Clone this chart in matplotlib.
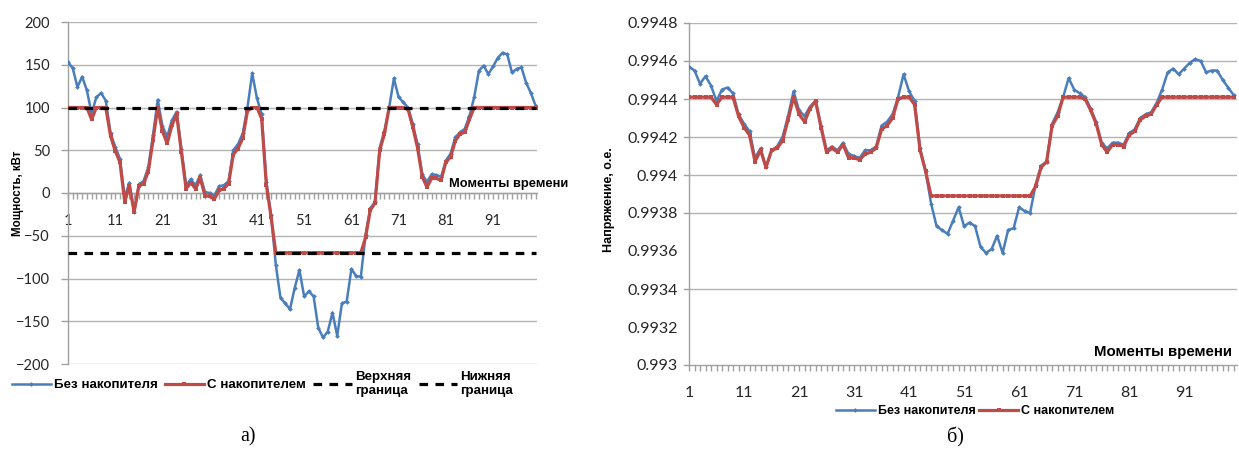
"""Power and voltage profiles with and without an energy storage unit."""

import matplotlib
matplotlib.use("Agg")
import matplotlib.pyplot as plt
from matplotlib.lines import Line2D
import numpy as np

# Time moments (categories)
moments = np.arange(1, 101)
moment_labels = [1, 11, 21, 31, 41, 51, 61, 71, 81, 91]

# Power, kW
power_no_storage = [
    153, 146, 124, 136, 120, 93, 112, 117, 108, 70,
    54, 40, -5, 12, -22, 10, 14, 30, 68, 109,
    78, 66, 85, 95, 52, 9, 16, 9, 21, 1,
    0, -3, 8, 9, 14, 50, 57, 70, 100, 140,
    111, 92, 13, -26, -84, -123, -129, -136, -111, -90,
    -121, -115, -121, -158, -169, -162, -140, -167, -129, -127,
    -89, -97, -98, -49, -18, -10, 53, 73, 100, 134,
    112, 106, 100, 81, 57, 22, 13, 22, 21, 19,
    38, 46, 65, 71, 75, 90, 112, 143, 149, 139,
    148, 158, 164, 162, 141, 145, 147, 129, 117, 102,
]
power_storage = [
    100, 100, 100, 100, 100, 86, 100, 100, 100, 67,
    49, 36, -10, 8, -22, 8, 11, 25, 62, 100,
    72, 58, 79, 92, 48, 5, 12, 5, 17, -3,
    -4, -7, 3, 5, 11, 45, 52, 64, 96, 100,
    100, 87, 9, -28, -70, -70, -70, -70, -70, -70,
    -70, -70, -70, -70, -70, -70, -70, -70, -70, -70,
    -70, -70, -70, -52, -20, -12, 50, 69, 100, 100,
    100, 100, 98, 77, 53, 19, 7, 17, 17, 15,
    36, 42, 61, 69, 71, 86, 100, 100, 100, 100,
    100, 100, 100, 100, 100, 100, 100, 100, 100, 100,
]
upper_limit = 100
lower_limit = -70
power_ticks = [-200, -150, -100, -50, 0, 50, 100, 150, 200]

# Voltage, p.u.
volt_no_storage = [
    0.99457, 0.99455, 0.99448, 0.99452, 0.99447, 0.99439, 0.99445, 0.99446, 0.99443, 0.99432,
    0.99427, 0.99423, 0.99409, 0.99414, 0.99404, 0.99413, 0.99415, 0.99420, 0.99431, 0.99444,
    0.99434, 0.99431, 0.99436, 0.99439, 0.99426, 0.99413, 0.99415, 0.99413, 0.99417, 0.99411,
    0.99410, 0.99409, 0.99413, 0.99413, 0.99415, 0.99426, 0.99428, 0.99432, 0.99441, 0.99453,
    0.99444, 0.99439, 0.99414, 0.99402, 0.99385, 0.99373, 0.99371, 0.99369, 0.99376, 0.99383,
    0.99373, 0.99375, 0.99373, 0.99362, 0.99359, 0.99361, 0.99368, 0.99359, 0.99371, 0.99372,
    0.99383, 0.99381, 0.99380, 0.99395, 0.99405, 0.99407, 0.99427, 0.99433, 0.99441, 0.99451,
    0.99445, 0.99443, 0.99441, 0.99435, 0.99428, 0.99417, 0.99414, 0.99417, 0.99417, 0.99416,
    0.99422, 0.99424, 0.99430, 0.99432, 0.99433, 0.99438, 0.99445, 0.99454, 0.99456, 0.99453,
    0.99456, 0.99459, 0.99461, 0.99460, 0.99454, 0.99455, 0.99455, 0.99450, 0.99446, 0.99442,
]
volt_storage = [
    0.99441, 0.99441, 0.99441, 0.99441, 0.99441, 0.99437, 0.99441, 0.99441, 0.99441, 0.99431,
    0.99425, 0.99421, 0.99407, 0.99413, 0.99404, 0.99413, 0.99414, 0.99418, 0.99429, 0.99441,
    0.99432, 0.99428, 0.99435, 0.99439, 0.99425, 0.99412, 0.99414, 0.99412, 0.99416, 0.99409,
    0.99409, 0.99408, 0.99411, 0.99412, 0.99414, 0.99424, 0.99426, 0.99430, 0.99440, 0.99441,
    0.99441, 0.99437, 0.99413, 0.99402, 0.99389, 0.99389, 0.99389, 0.99389, 0.99389, 0.99389,
    0.99389, 0.99389, 0.99389, 0.99389, 0.99389, 0.99389, 0.99389, 0.99389, 0.99389, 0.99389,
    0.99389, 0.99389, 0.99389, 0.99394, 0.99404, 0.99407, 0.99426, 0.99431, 0.99441, 0.99441,
    0.99441, 0.99441, 0.99440, 0.99434, 0.99427, 0.99416, 0.99412, 0.99416, 0.99416, 0.99415,
    0.99421, 0.99423, 0.99429, 0.99431, 0.99432, 0.99437, 0.99441, 0.99441, 0.99441, 0.99441,
    0.99441, 0.99441, 0.99441, 0.99441, 0.99441, 0.99441, 0.99441, 0.99441, 0.99441, 0.99441,
]
volt_ticks = [0.993, 0.9932, 0.9934, 0.9936, 0.9938, 0.994,
              0.9942, 0.9944, 0.9946, 0.9948]
volt_tick_labels = ["0.993", "0.9932", "0.9934", "0.9936", "0.9938", "0.994",
                    "0.9942", "0.9944", "0.9946", "0.9948"]
# gridlines actually drawn on the voltage chart
volt_grid = [0.9934, 0.9938, 0.994, 0.9942, 0.9944, 0.9946, 0.9948]

# Colours
BLUE = "#4A7EBB"
RED = "#BE4B48"
GRID = "#B3B3B3"
AXIS = "#A0A0A0"
TEXT = "#262626"

W, H = 1239, 450
fig = plt.figure(figsize=(W / 100, H / 100), dpi=100)

bold = dict(family="Liberation Sans", weight="bold", color="black")


def style_axes(ax, labelsize, ytick_len=5):
    """Excel-like axes: grey spines, category ticks."""
    ax.spines["top"].set_visible(False)
    ax.spines["right"].set_visible(False)
    for side in ("left", "bottom"):
        ax.spines[side].set_color(AXIS)
        ax.spines[side].set_linewidth(1.0)
    ax.set_axisbelow(True)
    ax.set_xticks(moments, minor=True)
    ax.set_xticks(moment_labels)
    ax.set_xticklabels([str(m) for m in moment_labels])
    ax.tick_params(axis="x", which="both", direction="out", length=4,
                   color=AXIS, width=1.0, pad=11, labelsize=labelsize,
                   labelcolor=TEXT)
    ax.tick_params(axis="y", direction="out", length=ytick_len, color=AXIS,
                   width=1.0, pad=8, labelsize=labelsize, labelcolor=TEXT)
    for lab in ax.get_xticklabels() + ax.get_yticklabels():
        lab.set_family("Lato")


def draw_series(ax, no_storage, storage):
    ax.plot(moments, no_storage, color=BLUE, lw=1.8, marker="D",
            markersize=2.4, markeredgewidth=0, zorder=3)
    ax.plot(moments, storage, color=RED, lw=2.3, marker="s",
            markersize=3.4, markeredgewidth=0, zorder=4)


# a) power
ax1 = fig.add_axes([68 / W, 1 - 364 / H, 469 / W, 342 / H])
draw_series(ax1, power_no_storage, power_storage)
dash = (0, (2.7, 2.3))
ax1.plot(moments, [upper_limit] * len(moments), color="black", lw=2.3,
         linestyle=dash, zorder=5)
ax1.plot(moments, [lower_limit] * len(moments), color="black", lw=2.3,
         linestyle=dash, zorder=5)
ax1.set_xlim(1, 100.3)
ax1.set_ylim(-200, 200)
ax1.set_yticks(power_ticks)
ax1.yaxis.grid(True, color=GRID, linewidth=1.0)
ax1.spines["bottom"].set_position(("data", 0))
style_axes(ax1, 10.5)

fig.text(568 / W, 1 - 184 / H, "Моменты времени", ha="right", va="center",
         fontsize=9.3, **bold)
fig.text(18 / W, 1 - 193 / H, "Мощность, кВт", rotation=90, ha="center",
         va="center", fontsize=8.3, **bold)

handles1 = [
    Line2D([], [], color=BLUE, lw=1.8, marker="D", markersize=2.4,
           markeredgewidth=0),
    Line2D([], [], color=RED, lw=2.3, marker="s", markersize=3.4,
           markeredgewidth=0),
    Line2D([], [], color="black", lw=2.3, linestyle=dash),
    Line2D([], [], color="black", lw=2.3, linestyle=dash),
]
labels1 = ["Без накопителя", "С накопителем", "Верхняя\nграница",
           "Нижняя\nграница"]
fig.legend(handles1, labels1, loc="center left",
           bbox_to_anchor=(12 / W, 1 - 384 / H), ncol=4, frameon=False,
           handlelength=2.9, handletextpad=0.25, columnspacing=0.55,
           borderpad=0, borderaxespad=0, numpoints=1,
           prop=dict(family="Liberation Sans", weight="bold", size=9.6),
           labelspacing=0)

fig.text(248 / W, 1 - 437 / H, "а)", ha="center", va="center",
         family="Liberation Serif", fontsize=14.5, color="black")

# b) voltage
ax2 = fig.add_axes([689 / W, 1 - 365 / H, 548 / W, 342 / H])
for level in volt_grid:
    ax2.axhline(level, color=GRID, linewidth=1.0, zorder=1)
draw_series(ax2, volt_no_storage, volt_storage)
ax2.set_xlim(1, 100.6)
ax2.set_ylim(volt_ticks[0], volt_ticks[-1])
ax2.set_yticks(volt_ticks)
ax2.set_yticklabels(volt_tick_labels)
style_axes(ax2, 11.5, ytick_len=0)
# outward tick marks only where the gridlines are drawn
for level in volt_grid + [volt_ticks[0]]:
    ax2.plot([-5 / 548, 0], [level, level], color=AXIS, lw=1.0,
             transform=ax2.get_yaxis_transform(), clip_on=False)

fig.text(1232 / W, 1 - 352 / H, "Моменты времени", ha="right", va="center",
         fontsize=10.8, **bold)
fig.text(609 / W, 1 - 200 / H, "Напряжение, о.е.", rotation=90, ha="center",
         va="center", fontsize=9, **bold)

fig.legend(handles1[:2], labels1[:2], loc="center",
           bbox_to_anchor=(975 / W, 1 - 411 / H), ncol=2, frameon=False,
           handlelength=3.1, handletextpad=0.25, columnspacing=0.3,
           borderpad=0, borderaxespad=0, numpoints=1,
           prop=dict(family="Liberation Sans", weight="bold", size=9))

fig.text(955 / W, 1 - 437 / H, "б)", ha="center", va="center",
         family="Liberation Serif", fontsize=14.5, color="black")

fig.savefig("out.png", dpi=100)
